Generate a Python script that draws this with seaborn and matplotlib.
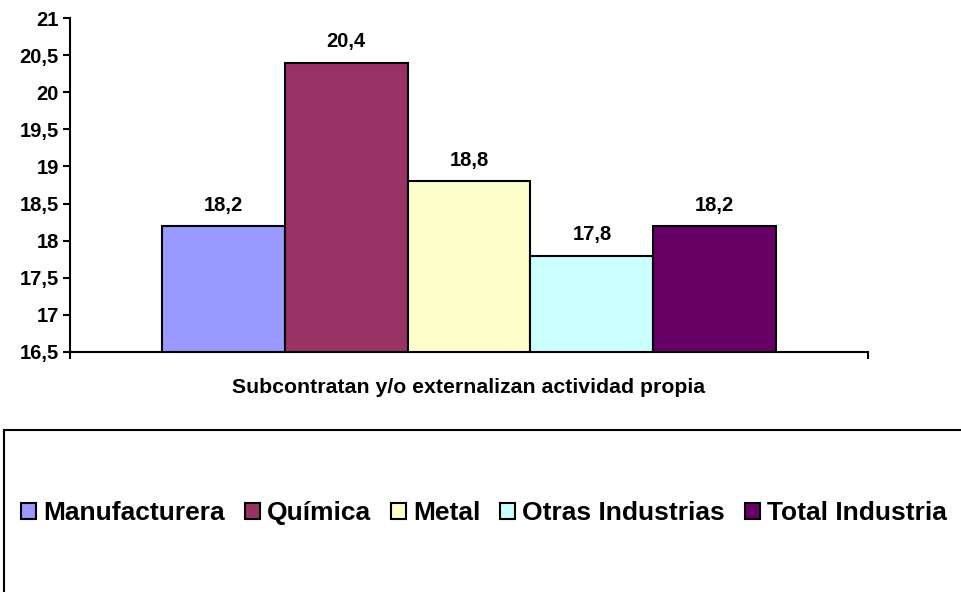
"""
Gráfico de barras: empresas que subcontratan y/o externalizan actividad propia.
"""

import matplotlib.pyplot as plt
from matplotlib.patches import Rectangle
import pandas as pd
import seaborn as sns

categoria = ["Subcontratan y/o externalizan actividad propia"]
sectores = ["Manufacturera", "Química", "Metal", "Otras Industrias", "Total Industria"]
valores = [18.2, 20.4, 18.8, 17.8, 18.2]
colores = ["#9999FF", "#993366", "#FFFFCC", "#CCFFFF", "#660066"]
yticks = [16.5, 17, 17.5, 18, 18.5, 19, 19.5, 20, 20.5, 21]

df = pd.DataFrame({
    "categoria": categoria * len(sectores),
    "sector": sectores,
    "valor": valores,
})

sns.set_style("white")
plt.rcParams["font.family"] = ["Liberation Sans", "DejaVu Sans"]
plt.rcParams["text.color"] = "black"
plt.rcParams["xtick.color"] = "black"
plt.rcParams["ytick.color"] = "black"
plt.rcParams["axes.labelcolor"] = "black"

fig = plt.figure(figsize=(9.62, 5.92), dpi=100)
ax = fig.add_axes([70 / 962, 1 - 352 / 592, 798 / 962, 334 / 592])

sns.barplot(
    data=df, x="categoria", y="valor", hue="sector",
    hue_order=sectores, palette=colores, width=0.77,
    edgecolor="black", linewidth=1.5, saturation=1, ax=ax,
)

ax.set_ylim(16.5, 21)
ax.set_xlim(-0.5, 0.5)
ax.set_yticks(yticks)
ax.set_yticklabels([f"{v:g}".replace(".", ",") for v in yticks],
                   fontsize=14.5, fontweight="bold")
ax.set_xticks([-0.5, 0.5])
ax.set_xticklabels(["", ""])
ax.set_xlabel(categoria[0], fontsize=15.3, fontweight="bold", labelpad=11)
ax.set_ylabel("")
ax.tick_params(axis="both", direction="out", length=5, width=1.5,
               bottom=True, left=True, pad=3)

sns.despine(ax=ax)
for s in ["left", "bottom"]:
    ax.spines[s].set_linewidth(1.5)
    ax.spines[s].set_color("black")

for cont in ax.containers:
    ax.bar_label(cont, labels=[f"{v:.1f}".replace(".", ",") for v in cont.datavalues],
                 padding=8, fontsize=14.5, fontweight="bold")

handles, labels = ax.get_legend_handles_labels()
ax.get_legend().remove()

fig.patches.append(Rectangle((4 / 962, -0.2), 1.2, 0.2 + (592 - 430) / 592,
                             transform=fig.transFigure, fill=False,
                             edgecolor="black", linewidth=1.5))
fig.legend(handles, labels, loc="center left",
           bbox_to_anchor=(21 / 962, (592 - 513) / 592), ncol=5, frameon=False,
           prop={"size": 19, "weight": "bold"}, handlelength=0.57,
           handleheight=0.57, handletextpad=0.27, columnspacing=0.75,
           borderaxespad=0, borderpad=0)

fig.savefig("out.png", dpi=100)
